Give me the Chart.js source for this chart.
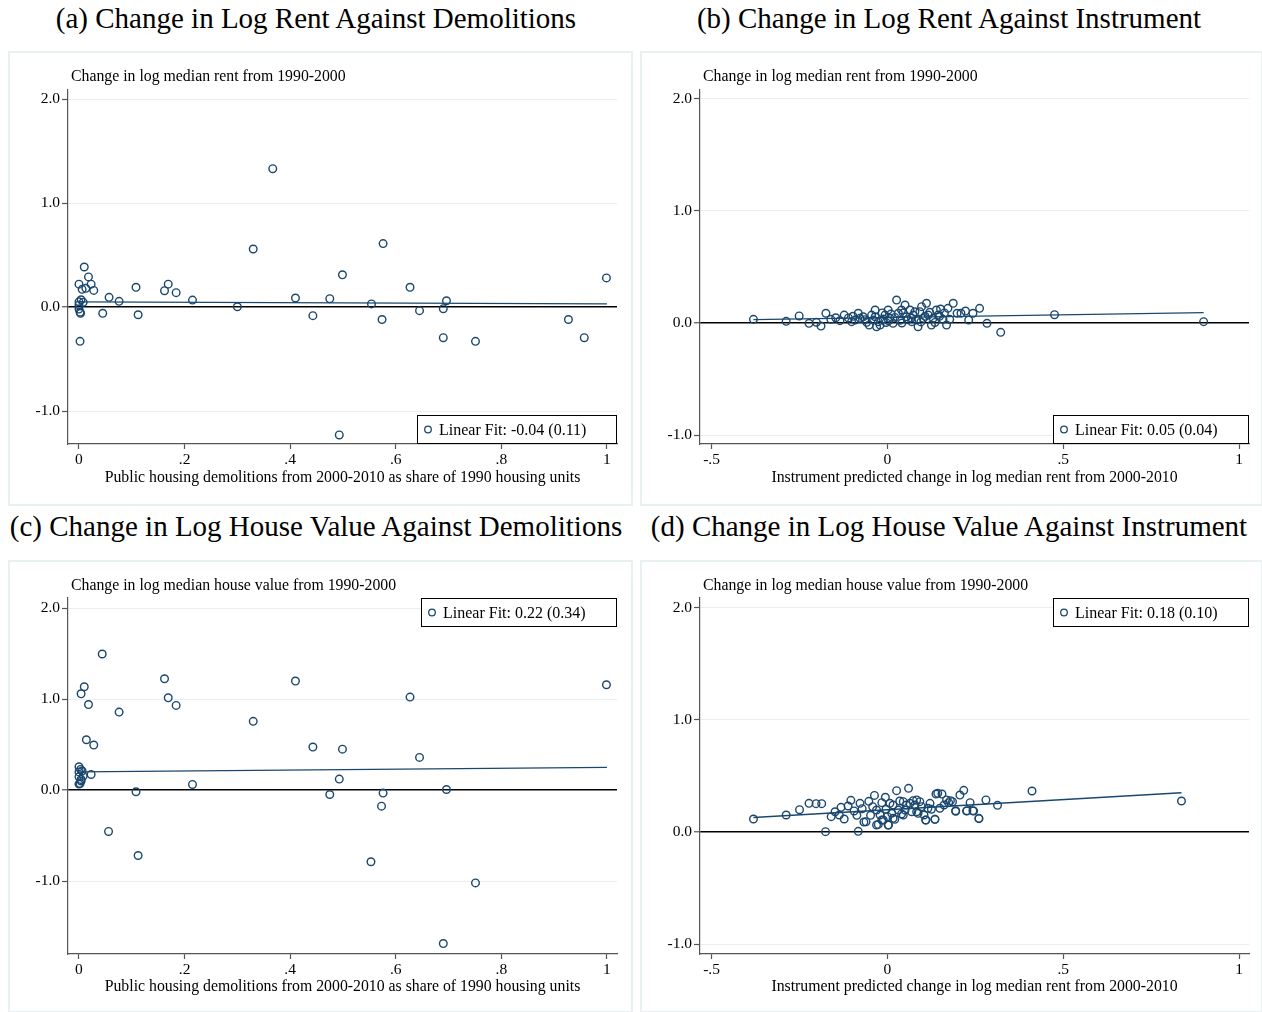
<!DOCTYPE html>
<html>
<head>
<meta charset="utf-8">
<script src="https://cdn.jsdelivr.net/npm/chart.js@4.4.1/dist/chart.umd.min.js"></script>
<style>
  body { margin: 0; background: #fff; width: 1262px; height: 1012px; position: relative; overflow: hidden; }
  .ttl { position: absolute; height: 36px; line-height: 36px; text-align: center; font-family: "Liberation Serif", "Times New Roman", serif; font-size: 29px; color: #000; white-space: nowrap; }
  .box { position: absolute; box-sizing: border-box; border: 2px solid #e9f0f2; }
  canvas { position: absolute; }
</style>
</head>
<body>
<div class="ttl" style="left:0;top:0;width:632px">(a) Change in Log Rent Against Demolitions</div>
<div class="ttl" style="left:636px;top:0;width:626px">(b) Change in Log Rent Against Instrument</div>
<div class="ttl" style="left:0;top:508px;width:632px">(c) Change in Log House Value Against Demolitions</div>
<div class="ttl" style="left:636px;top:508px;width:626px">(d) Change in Log House Value Against Instrument</div>

<div class="box" style="left:8px;top:51px;width:625px;height:455px"></div>
<div class="box" style="left:640px;top:51px;width:623px;height:455px"></div>
<div class="box" style="left:8px;top:560px;width:625px;height:453px"></div>
<div class="box" style="left:640px;top:560px;width:623px;height:453px"></div>

<canvas id="chartA" width="623" height="453" style="left:9px;top:52px"></canvas>
<canvas id="chartB" width="621" height="453" style="left:641px;top:52px"></canvas>
<canvas id="chartC" width="623" height="451" style="left:9px;top:561px"></canvas>
<canvas id="chartD" width="621" height="451" style="left:641px;top:561px"></canvas>

<script>
// ---- data ----
// (a) demolition share vs change in log rent
var demolShareA = [0.010, 0.000, 0.018, 0.023, 0.006, 0.013, 0.028, 0.000, 0.004, 0.008, 0.000, 0.000, 0.002, 0.003, 0.002,
  0.045, 0.057, 0.076, 0.108, 0.112, 0.162, 0.169, 0.184, 0.215, 0.300, 0.330, 0.367, 0.410, 0.443, 0.475, 0.493, 0.499,
  0.554, 0.574, 0.576, 0.627, 0.645, 0.690, 0.690, 0.696, 0.751, 0.927, 0.957, 0.999];
var rentChgA = [0.385, 0.22, 0.29, 0.22, 0.17, 0.18, 0.16, 0.05, 0.07, 0.045, 0.02, -0.02, -0.05, -0.06, -0.33,
  -0.06, 0.093, 0.055, 0.19, -0.074, 0.157, 0.22, 0.138, 0.067, 0.003, 0.558, 1.33, 0.087, -0.083, 0.08, -1.23, 0.31,
  0.03, -0.12, 0.61, 0.19, -0.035, -0.016, -0.295, 0.06, -0.33, -0.12, -0.295, 0.28];
var fitXA = [0, 1];
var fitYA = [0.05, 0.03];

// (b) instrument vs change in log rent
var instrB = [-0.381, -0.288, -0.251, -0.223, -0.202, -0.189, -0.175, -0.161, -0.147, -0.135, -0.123, -0.111, -0.102, -0.092,
  -0.083, -0.078, -0.069, -0.059, -0.052, -0.045, -0.040, -0.035, -0.031, -0.035, -0.026, -0.021, -0.007, 0.002, 0.007,
  0.016, 0.026, 0.031, 0.040, 0.050, 0.054, 0.064, 0.069, 0.073, 0.083, 0.087, 0.092, 0.097, 0.102, 0.111, 0.116, 0.125,
  0.130, 0.139, 0.144, 0.151, 0.158, 0.168, 0.172, 0.177, 0.187, 0.198, 0.209, 0.222, 0.231, 0.243, 0.262, 0.283, 0.322,
  0.475, 0.899, -0.012, -0.004, 0.010, 0.021, 0.036, 0.045, 0.058, 0.078, 0.095, 0.107, 0.120, 0.135, 0.148, 0.162,
  -0.064, -0.098, -0.015, 0.003, 0.041, 0.068];
var rentChgB = [0.033, 0.015, 0.063, -0.003, 0.006, -0.027, 0.087, 0.033, 0.047, 0.021, 0.071, 0.045, 0.012, 0.027,
  0.087, 0.042, 0.056, 0.006, -0.018, 0.071, 0.027, 0.116, -0.033, 0.056, 0.012, -0.018, 0.071, 0.116, 0.042,
  -0.003, 0.205, 0.087, 0.116, 0.161, 0.056, 0.116, 0.012, 0.071, 0.027, -0.033, 0.101, 0.146, 0.042, 0.176, 0.071, -0.018,
  0.042, 0.116, 0.071, 0.125, 0.033, -0.018, 0.131, 0.033, 0.176, 0.087, 0.087, 0.107, 0.027, 0.087, 0.131, -0.003, -0.083,
  0.074, 0.012, 0.035, 0.005, 0.080, 0.050, 0.025, 0.090, 0.030, 0.100, 0.010, 0.060, 0.095, 0.005, 0.060, 0.090,
  0.030, 0.060, 0.090, 0.020, 0.000, 0.045];
var fitXB = [-0.381, 0.899];
var fitYB = [0.03, 0.093];

// (c) demolition share vs change in log house value
var demolShareC = [0.044, 0.010, 0.004, 0.018, 0.076, 0.014, 0.028, 0.000, 0.000, 0.003, 0.006, 0.023, 0.000, 0.008, 0.004,
  0.002, 0.000, 0.004, 0.056, 0.108, 0.112, 0.162, 0.169, 0.184, 0.215, 0.330, 0.410, 0.443, 0.475, 0.493, 0.499,
  0.553, 0.573, 0.576, 0.627, 0.645, 0.690, 0.696, 0.751, 0.999];
var valueChgC = [1.495, 1.135, 1.058, 0.94, 0.857, 0.553, 0.495, 0.256, 0.20, 0.227, 0.21, 0.172, 0.146, 0.154, 0.117,
  0.073, 0.066, 0.10, -0.454, -0.018, -0.718, 1.223, 1.014, 0.93, 0.062, 0.755, 1.198, 0.473, -0.048, 0.121, 0.45,
  -0.787, -0.176, -0.033, 1.022, 0.359, -1.685, 0.007, -1.019, 1.157];
var fitXC = [0, 1];
var fitYC = [0.20, 0.25];

// (d) instrument vs change in log house value
var instrD = [-0.381, -0.288, -0.250, -0.223, -0.203, -0.187, -0.176, -0.160, -0.149, -0.137, -0.132, -0.123, -0.112, -0.104,
  -0.095, -0.087, -0.083, -0.078, -0.072, -0.067, -0.061, -0.053, -0.048, -0.042, -0.037, -0.031, -0.026, -0.021, -0.016,
  -0.012, -0.006, -0.004, 0.000, 0.003, 0.007, 0.012, 0.016, 0.021, 0.026, 0.031, 0.035, 0.040, 0.045, 0.050, 0.054, 0.060,
  0.064, 0.069, 0.073, 0.078, 0.083, 0.087, 0.092, 0.097, 0.104, 0.109, 0.115, 0.121, 0.125, 0.135, 0.138, 0.143, 0.149,
  0.155, 0.161, 0.168, 0.174, 0.179, 0.185, 0.194, 0.206, 0.217, 0.226, 0.235, 0.243, 0.260, 0.280, 0.313, 0.411, 0.836,
  -0.031, 0.002, -0.016, 0.016, 0.045, 0.109, 0.135, 0.083, 0.194, 0.225, 0.245, 0.260];
var valueChgD = [0.116, 0.152, 0.199, 0.256, 0.253, 0.253, 0.003, 0.137, 0.181, 0.152, 0.220, 0.116, 0.232, 0.283,
  0.188, 0.149, 0.006, 0.256, 0.208, 0.089, 0.092, 0.274, 0.149, 0.226, 0.327, 0.196, 0.068, 0.152, 0.262,
  0.107, 0.310, 0.203, 0.137, 0.062, 0.256, 0.167, 0.241, 0.113, 0.369, 0.196, 0.277, 0.161, 0.271, 0.196, 0.241, 0.390,
  0.256, 0.181, 0.280, 0.241, 0.286, 0.167, 0.271, 0.226, 0.152, 0.107, 0.212, 0.256, 0.203, 0.113, 0.339, 0.345, 0.212,
  0.339, 0.241, 0.286, 0.262, 0.280, 0.271, 0.185, 0.330, 0.372, 0.190, 0.262, 0.190, 0.119, 0.286, 0.238, 0.366, 0.277,
  0.063, 0.063, 0.107, 0.122, 0.152, 0.107, 0.113, 0.181, 0.190, 0.188, 0.188, 0.122];
var fitXD = [-0.381, 0.836];
var fitYD = [0.13, 0.35];

// tick values and labels
var demolTicks = [0, 0.2, 0.4, 0.6, 0.8, 1];
var demolTickLabels = ['0', '.2', '.4', '.6', '.8', '1'];
var instrTicks = [-0.5, 0, 0.5, 1];
var instrTickLabels = ['-.5', '0', '.5', '1'];
var yTicks = [-1, 0, 1, 2];
var yTickLabels = ['-1.0', '0.0', '1.0', '2.0'];

var navy = '#1a476f';
var serif = '"Liberation Serif", "Times New Roman", serif';
Chart.defaults.font.family = serif;
Chart.defaults.font.size = 15;
Chart.defaults.color = '#000';

function pts(xs, ys) {
  return xs.map(function (x, i) { return { x: x, y: ys[i] }; });
}

// draws the top-left axis title, the bottom axis title and the legend box
var stataDecor = {
  id: 'stataDecor',
  afterDraw: function (chart, args, opts) {
    var ctx = chart.ctx, a = chart.chartArea;
    ctx.save();
    ctx.fillStyle = '#000';
    ctx.font = '15.8px ' + serif;
    ctx.textBaseline = 'middle';
    ctx.textAlign = 'left';
    ctx.fillText(opts.yTitle, a.left + 3, 25);
    ctx.textAlign = 'center';
    ctx.fillText(opts.xTitle, (a.left + a.right) / 2, a.bottom + opts.xTitleGap);

    var w = opts.legendWidth, h = 29;
    var lx = a.right - w;
    var ly = opts.legendPos === 'top' ? a.top : a.bottom - h;
    ctx.fillStyle = '#fff';
    ctx.fillRect(lx, ly, w, h);
    ctx.strokeStyle = '#000';
    ctx.lineWidth = 1;
    ctx.strokeRect(lx + 0.5, ly + 0.5, w - 1, h - 1);
    ctx.beginPath();
    ctx.arc(lx + 11, ly + h / 2, 3.3, 0, Math.PI * 2);
    ctx.strokeStyle = navy;
    ctx.lineWidth = 1.3;
    ctx.stroke();
    ctx.fillStyle = '#000';
    ctx.textAlign = 'left';
    ctx.font = '16px ' + serif;
    ctx.fillText(opts.legendText, lx + 22, ly + h / 2 + 1);
    ctx.restore();
  }
};

function makePanel(id, p) {
  var el = document.getElementById(id);
  return new Chart(el.getContext('2d'), {
    type: 'scatter',
    data: {
      datasets: [{
        data: pts(p.x, p.y),
        pointStyle: 'circle',
        pointRadius: 3.8,
        pointHoverRadius: 3.8,
        borderColor: navy,
        borderWidth: 1.4,
        backgroundColor: 'rgba(0,0,0,0)'
      }, {
        type: 'line',
        data: pts(p.fitX, p.fitY),
        borderColor: navy,
        borderWidth: 1.4,
        pointRadius: 0,
        fill: false
      }]
    },
    options: {
      responsive: false,
      animation: false,
      events: [],
      layout: { padding: { left: 0, right: p.padRight, top: p.padTop, bottom: 0 } },
      plugins: {
        legend: { display: false },
        tooltip: { enabled: false },
        stataDecor: p.decor
      },
      scales: {
        x: {
          type: 'linear',
          min: p.xMin,
          max: p.xMax,
          afterBuildTicks: function (s) { s.ticks = p.xTicks.map(function (v) { return { value: v }; }); },
          afterFit: function (s) { s.height = p.xHeight; },
          ticks: {
            autoSkip: false,
            maxRotation: 0,
            padding: 2,
            font: { size: 15.5 },
            callback: function (v, i) { return p.xTickLabels[i]; }
          },
          grid: { drawOnChartArea: false, tickLength: 5, tickColor: '#555', tickWidth: 1.2 },
          border: { color: '#555', width: 1.2 }
        },
        y: {
          type: 'linear',
          min: p.yMin,
          max: p.yMax,
          afterBuildTicks: function (s) { s.ticks = yTicks.map(function (v) { return { value: v }; }); },
          afterFit: function (s) { s.width = 59; },
          ticks: {
            autoSkip: false,
            padding: 2,
            font: { size: 15.5 },
            callback: function (v, i) { return yTickLabels[i]; }
          },
          grid: {
            color: function (c) { return c.tick && c.tick.value === 0 ? '#000' : '#e6eef0'; },
            lineWidth: function (c) { return c.tick && c.tick.value === 0 ? 1.5 : 1; },
            tickLength: 6,
            tickColor: '#555',
            tickWidth: 1.2
          },
          border: { color: '#555', width: 1.2 }
        }
      }
    },
    plugins: [stataDecor]
  });
}

var demolTitle = 'Public housing demolitions from 2000-2010 as share of 1990 housing units';
var instrTitle = 'Instrument predicted change in log median rent from 2000-2010';

makePanel('chartA', {
  x: demolShareA, y: rentChgA, fitX: fitXA, fitY: fitYA,
  xMin: -0.0208, xMax: 1.019, yMin: -1.317, yMax: 2.087,
  xTicks: demolTicks, xTickLabels: demolTickLabels,
  padRight: 15, padTop: 38, xHeight: 61,
  decor: { yTitle: 'Change in log median rent from 1990-2000', xTitle: demolTitle, xTitleGap: 34,
           legendText: 'Linear Fit: -0.04 (0.11)', legendWidth: 200, legendPos: 'bottom' }
});
makePanel('chartB', {
  x: instrB, y: rentChgB, fitX: fitXB, fitY: fitYB,
  xMin: -0.533, xMax: 1.028, yMin: -1.08, yMax: 2.08,
  xTicks: instrTicks, xTickLabels: instrTickLabels,
  padRight: 13, padTop: 38, xHeight: 61,
  decor: { yTitle: 'Change in log median rent from 1990-2000', xTitle: instrTitle, xTitleGap: 34,
           legendText: 'Linear Fit: 0.05 (0.04)', legendWidth: 196, legendPos: 'bottom' }
});
makePanel('chartC', {
  x: demolShareC, y: valueChgC, fitX: fitXC, fitY: fitYC,
  xMin: -0.0208, xMax: 1.019, yMin: -1.80, yMax: 2.11,
  xTicks: demolTicks, xTickLabels: demolTickLabels,
  padRight: 15, padTop: 37, xHeight: 58,
  decor: { yTitle: 'Change in log median house value from 1990-2000', xTitle: demolTitle, xTitleGap: 33,
           legendText: 'Linear Fit: 0.22 (0.34)', legendWidth: 196, legendPos: 'top' }
});
makePanel('chartD', {
  x: instrD, y: valueChgD, fitX: fitXD, fitY: fitYD,
  xMin: -0.533, xMax: 1.028, yMin: -1.089, yMax: 2.089,
  xTicks: instrTicks, xTickLabels: instrTickLabels,
  padRight: 13, padTop: 37, xHeight: 58,
  decor: { yTitle: 'Change in log median house value from 1990-2000', xTitle: instrTitle, xTitleGap: 33,
           legendText: 'Linear Fit: 0.18 (0.10)', legendWidth: 196, legendPos: 'top' }
});
</script>
</body>
</html>
